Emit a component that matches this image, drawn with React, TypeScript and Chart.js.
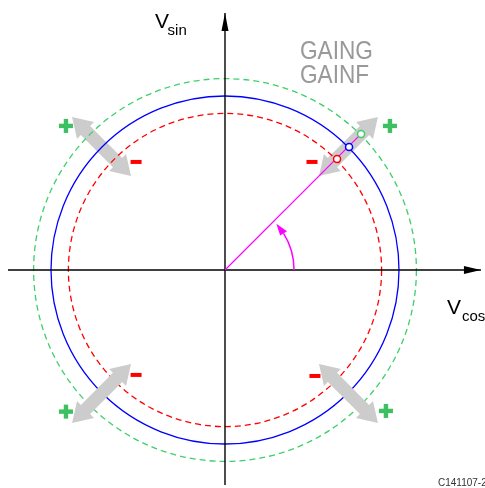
import { useEffect, useRef } from 'react';
import { Chart, registerables } from 'chart.js';

Chart.register(...registerables);

// ---- data (unit = nominal vector magnitude) ----
const CIRCLE_NAMES = ['GAINF', 'Nominal', 'GAING'];
const CIRCLE_RADII = [0.9, 1.0, 1.1];
const MARKER_X = [0.644, 0.713, 0.782];
const MARKER_Y = [0.638, 0.707, 0.782];
const ARROW_ANGLES = [45, 135, 225, 315];
const ARROW_INNER = 0.764;
const ARROW_OUTER = 1.243;
const PLUS_X = [0.948, -0.914, -0.914, 0.925];
const PLUS_Y = [0.828, 0.828, -0.814, -0.81];
const MINUS_X = [0.5, -0.511, -0.511, 0.517];
const MINUS_Y = [0.621, 0.621, -0.603, -0.609];
const PHASE_ANGLE = 42;
const ARC_RADIUS = 0.397;
const AXIS_X = [-1.247, 1.471];
const AXIS_Y = [-1.236, 1.477];
const X_RANGE = [-1.2931, 1.4943];
const Y_RANGE = [-1.2529, 1.5517];

// ---- styles ----
const CIRCLE_COLORS = ['#ff0000', '#0000ff', '#3dd06a'];
const CIRCLE_DASH = [[6, 4], [], [6, 4]];
const MAGENTA = '#ff00ff';
const GRAY = '#cccccc';
const PLUS_COLOR = '#3cc061';
const MINUS_COLOR = '#ff0000';

const diagramPlugin = {
  id: 'diagram',
  beforeDatasetsDraw(chart: any) {
    const { ctx, scales } = chart;
    const xs = scales.x, ys = scales.y;
    const cx = xs.getPixelForValue(0), cy = ys.getPixelForValue(0);
    const unit = xs.getPixelForValue(1) - cx;

    const drawArrow = (angDeg: number) => {
      const a = (angDeg * Math.PI) / 180;
      const dx = Math.cos(a), dy = -Math.sin(a);
      const nx = -dy, ny = dx;
      const rin = ARROW_INNER * unit, rout = ARROW_OUTER * unit;
      const hl = 19, hw = 12, sw = 6.5;
      const P = (r: number, o: number) => [cx + dx * r + nx * o, cy + dy * r + ny * o];
      const pts = [
        P(rout, 0), P(rout - hl, hw), P(rout - hl, sw), P(rin + hl, sw), P(rin + hl, hw),
        P(rin, 0), P(rin + hl, -hw), P(rin + hl, -sw), P(rout - hl, -sw), P(rout - hl, -hw),
      ];
      ctx.save();
      ctx.fillStyle = GRAY;
      ctx.beginPath();
      pts.forEach((p, i) => (i ? ctx.lineTo(p[0], p[1]) : ctx.moveTo(p[0], p[1])));
      ctx.closePath();
      ctx.fill();
      ctx.restore();
    };

    // upper arrows sit under the circles
    ARROW_ANGLES.filter((a) => a < 180).forEach(drawArrow);

    CIRCLE_RADII.forEach((r, i) => {
      ctx.save();
      ctx.strokeStyle = CIRCLE_COLORS[i];
      ctx.lineWidth = 1.3;
      ctx.setLineDash(CIRCLE_DASH[i]);
      ctx.beginPath();
      ctx.arc(cx, cy, r * unit, 0, Math.PI * 2);
      ctx.stroke();
      ctx.restore();
    });

    // lower arrows sit over the circles
    ARROW_ANGLES.filter((a) => a >= 180).forEach(drawArrow);

    // plus / minus signs
    ctx.save();
    ctx.fillStyle = PLUS_COLOR;
    PLUS_X.forEach((x, i) => {
      const px = xs.getPixelForValue(x), py = ys.getPixelForValue(PLUS_Y[i]);
      ctx.fillRect(px - 7, py - 2.2, 14, 4.4);
      ctx.fillRect(px - 2.2, py - 7, 4.4, 14);
    });
    ctx.fillStyle = MINUS_COLOR;
    MINUS_X.forEach((x, i) => {
      const px = xs.getPixelForValue(x), py = ys.getPixelForValue(MINUS_Y[i]);
      ctx.fillRect(px - 5.5, py - 2, 11, 4);
    });
    ctx.restore();
  },
  afterDatasetsDraw(chart: any) {
    const { ctx, scales } = chart;
    const xs = scales.x, ys = scales.y;
    const cx = xs.getPixelForValue(0), cy = ys.getPixelForValue(0);
    const unit = xs.getPixelForValue(1) - cx;

    // axis arrowheads
    ctx.save();
    ctx.fillStyle = '#000';
    const tx = xs.getPixelForValue(AXIS_X[1]);
    ctx.beginPath();
    ctx.moveTo(tx, cy);
    ctx.lineTo(tx - 17, cy - 4);
    ctx.lineTo(tx - 17, cy + 4);
    ctx.closePath();
    ctx.fill();
    const ty = ys.getPixelForValue(AXIS_Y[1]);
    ctx.beginPath();
    ctx.moveTo(cx, ty);
    ctx.lineTo(cx - 3.5, ty + 18);
    ctx.lineTo(cx + 3.5, ty + 18);
    ctx.closePath();
    ctx.fill();
    ctx.restore();

    // phase angle arc with arrowhead
    const R = ARC_RADIUS * unit;
    const tip = (PHASE_ANGLE * Math.PI) / 180;
    const base = ((PHASE_ANGLE - 10) * Math.PI) / 180;
    ctx.save();
    ctx.strokeStyle = MAGENTA;
    ctx.fillStyle = MAGENTA;
    ctx.lineWidth = 1.5;
    ctx.beginPath();
    ctx.arc(cx, cy, R, 0, -base, true);
    ctx.stroke();
    const tipX = cx + R * Math.cos(tip), tipY = cy - R * Math.sin(tip);
    const bX = cx + R * Math.cos(base), bY = cy - R * Math.sin(base);
    const nX = Math.cos(base), nY = -Math.sin(base);
    ctx.beginPath();
    ctx.moveTo(tipX, tipY);
    ctx.lineTo(bX + nX * 4, bY + nY * 4);
    ctx.lineTo(bX - nX * 4, bY - nY * 4);
    ctx.closePath();
    ctx.fill();
    ctx.restore();

    // texts
    const P = (x: number, y: number) => [xs.getPixelForValue(x), ys.getPixelForValue(y)];
    ctx.save();
    ctx.textBaseline = 'alphabetic';
    ctx.textAlign = 'left';
    ctx.fillStyle = '#000';
    ctx.font = '21px "Liberation Sans", Arial, sans-serif';
    let p = P(-0.402, 1.389);
    ctx.fillText('V', p[0], p[1]);
    p = P(1.276, -0.253);
    ctx.fillText('V', p[0], p[1]);
    ctx.font = '15px "Liberation Sans", Arial, sans-serif';
    p = P(-0.33, 1.351);
    ctx.fillText('sin', p[0], p[1]);
    p = P(1.362, -0.293);
    ctx.fillText('cos', p[0], p[1]);

    ctx.fillStyle = '#999999';
    ctx.font = '26px "Liberation Sans", Arial, sans-serif';
    [[CIRCLE_NAMES[2], 1.213], [CIRCLE_NAMES[0], 1.075]].forEach(([t, y]: any) => {
      const q = P(0.431, y);
      ctx.save();
      ctx.translate(q[0], q[1]);
      ctx.scale(0.87, 1);
      ctx.fillText(t, 0, 0);
      ctx.restore();
    });

    ctx.fillStyle = '#333333';
    ctx.font = '10px "Liberation Sans", Arial, sans-serif';
    p = P(1.224, -1.241);
    ctx.fillText('C141107-2', p[0], p[1]);
    ctx.restore();
  },
};

export default function App() {
  const ref = useRef<HTMLCanvasElement | null>(null);
  useEffect(() => {
    if (!ref.current) return;
    const chart = new Chart(ref.current, {
      type: 'scatter',
      data: {
        datasets: [
          {
            data: MARKER_X.map((x, i) => ({ x, y: MARKER_Y[i] })),
            pointRadius: 3.5,
            pointBorderWidth: 1.5,
            pointBackgroundColor: '#ffffff',
            pointBorderColor: CIRCLE_COLORS,
            showLine: false,
            order: 0,
          },
          {
            data: [{ x: 0, y: 0 }, { x: MARKER_X[2], y: MARKER_Y[2] }],
            showLine: true,
            borderColor: MAGENTA,
            borderWidth: 1.2,
            pointRadius: 0,
            order: 1,
          },
          {
            data: [{ x: AXIS_X[0], y: 0 }, { x: AXIS_X[1], y: 0 }],
            showLine: true,
            borderColor: '#000',
            borderWidth: 1.4,
            pointRadius: 0,
            order: 2,
          },
          {
            data: [{ x: 0, y: AXIS_Y[0] }, { x: 0, y: AXIS_Y[1] }],
            showLine: true,
            borderColor: '#000',
            borderWidth: 1.4,
            pointRadius: 0,
            order: 2,
          },
        ],
      },
      options: {
        animation: false,
        responsive: false,
        maintainAspectRatio: false,
        layout: { padding: 0, autoPadding: false },
        plugins: { legend: { display: false }, tooltip: { enabled: false } },
        scales: {
          x: { type: 'linear', min: X_RANGE[0], max: X_RANGE[1], display: false },
          y: { type: 'linear', min: Y_RANGE[0], max: Y_RANGE[1], display: false },
        },
      },
      plugins: [diagramPlugin],
    });
    return () => chart.destroy();
  }, []);
  return (
    <div style={{ position: 'absolute', left: 0, top: 0, width: 485, height: 488, background: '#fff' }}>
      <canvas ref={ref} width={485} height={488} style={{ display: 'block' }} />
    </div>
  );
}
